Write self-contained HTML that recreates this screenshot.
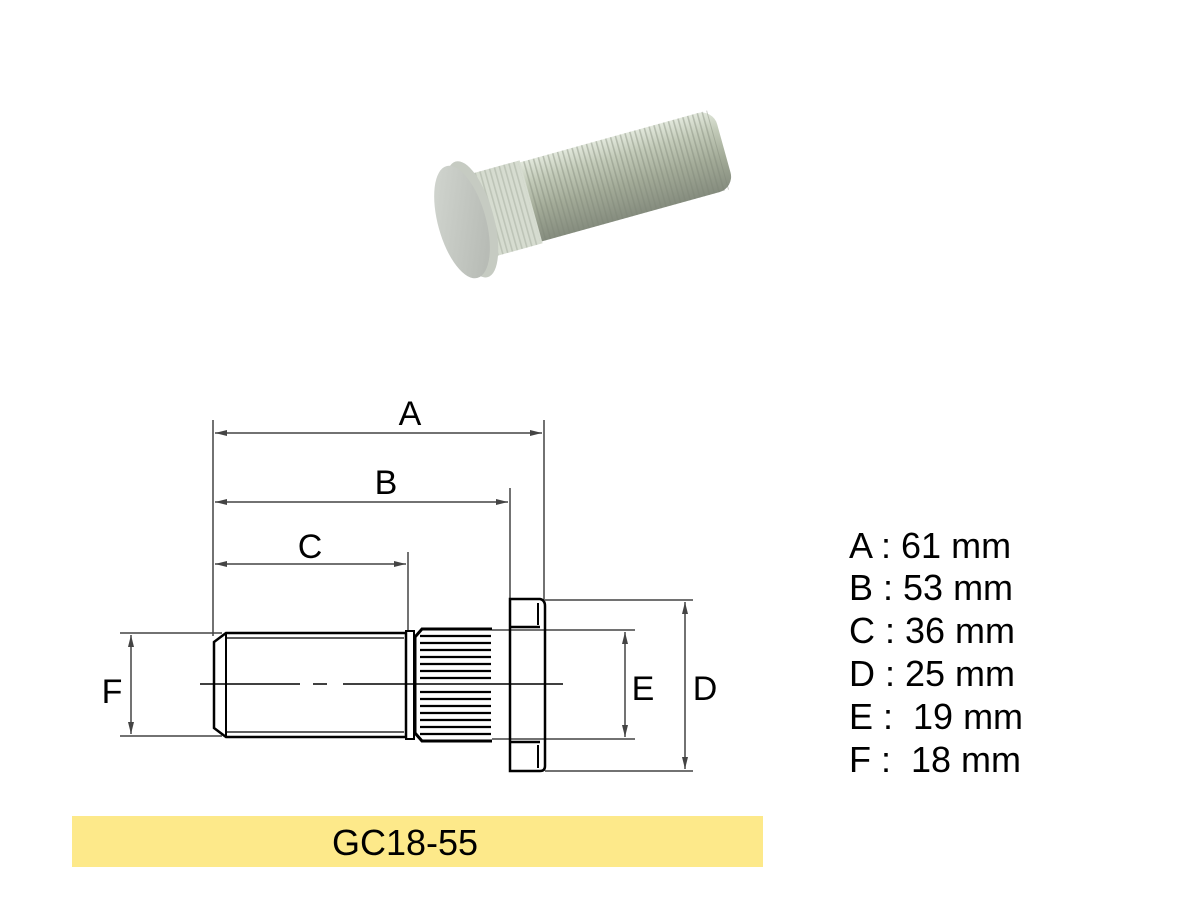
<!DOCTYPE html>
<html><head><meta charset="utf-8"><style>
html,body{margin:0;padding:0;background:#fff;}
svg{display:block}
text{font-family:"Liberation Sans",Arial,sans-serif;fill:#000}
</style></head><body>
<svg width="1179" height="905" viewBox="0 0 1179 905" xmlns="http://www.w3.org/2000/svg">
<defs>
<linearGradient id="sh" x1="0" y1="0" x2="0" y2="1">
<stop offset="0" stop-color="#e2e8dc"/><stop offset="0.25" stop-color="#c3cbb9"/><stop offset="0.6" stop-color="#a3ab98"/><stop offset="1" stop-color="#858c7e"/>
</linearGradient>
<linearGradient id="hd" x1="0" y1="0" x2="1" y2="1">
<stop offset="0" stop-color="#d4d8d2"/><stop offset="1" stop-color="#b2b6b0"/>
</linearGradient>
<pattern id="thr" width="5" height="90" patternUnits="userSpaceOnUse">
<rect x="0" width="1.6" height="90" fill="#7c8576" opacity="0.4"/>
</pattern>
<marker id="ar" viewBox="0 0 12 6" refX="12" refY="3" markerWidth="12" markerHeight="6" orient="auto-start-reverse" markerUnits="userSpaceOnUse"><path d="M0,0 L12,3 L0,6 z" fill="#444"/></marker>
</defs>

<!-- photo bolt -->
<g transform="translate(462,222) rotate(-15.5)">
<rect x="40" y="-42" width="232" height="82" rx="16" fill="url(#sh)"/>
<rect x="70" y="-42" width="196" height="82" fill="url(#thr)"/>
<rect x="14" y="-44" width="58" height="86" fill="#d6dcd0"/>
<rect x="18" y="-44" width="52" height="86" fill="url(#thr)" opacity="0.7"/>
<ellipse cx="10" cy="0" rx="22" ry="60" fill="#c6cbc2"/>
<ellipse cx="0" cy="0" rx="24" ry="58" fill="url(#hd)"/>
</g>

<!-- dimension lines -->
<g stroke="#444" stroke-width="1.5" fill="none">
<line x1="213" y1="420" x2="213" y2="636"/>
<line x1="544" y1="420" x2="544" y2="600"/>
<line x1="510" y1="488" x2="510" y2="600"/>
<line x1="408" y1="552" x2="408" y2="630"/>
<line x1="215" y1="433" x2="542" y2="433" marker-start="url(#ar)" marker-end="url(#ar)"/>
<line x1="215" y1="502" x2="508" y2="502" marker-start="url(#ar)" marker-end="url(#ar)"/>
<line x1="215" y1="564" x2="406" y2="564" marker-start="url(#ar)" marker-end="url(#ar)"/>
<line x1="120" y1="633" x2="222" y2="633"/>
<line x1="120" y1="736" x2="222" y2="736"/>
<line x1="131" y1="635" x2="131" y2="734" marker-start="url(#ar)" marker-end="url(#ar)"/>
<line x1="492" y1="630" x2="635" y2="630"/>
<line x1="492" y1="739" x2="635" y2="739"/>
<line x1="625" y1="632" x2="625" y2="737" marker-start="url(#ar)" marker-end="url(#ar)"/>
<line x1="545" y1="600" x2="693" y2="600"/>
<line x1="545" y1="771" x2="693" y2="771"/>
<line x1="685" y1="602" x2="685" y2="769" marker-start="url(#ar)" marker-end="url(#ar)"/>
</g>

<!-- part drawing -->
<g stroke="#000" fill="none">
<path d="M226,633 L406,633 L406,737 L226,737 L214,728 L214,642 Z" stroke-width="2.5"/>
<line x1="226" y1="633" x2="226" y2="737" stroke-width="2"/>
<line x1="226" y1="638" x2="404" y2="638" stroke-width="1.2"/>
<line x1="226" y1="732" x2="404" y2="732" stroke-width="1.2"/>
<rect x="406" y="631" width="8" height="108" stroke-width="2"/>
<path d="M492,629 L422,629 L415,637 L415,733 L422,741 L492,741" stroke-width="3"/>
<g stroke-width="2.2">
<line x1="420" y1="636" x2="491" y2="636"/><line x1="420" y1="643" x2="491" y2="643"/>
<line x1="420" y1="650" x2="491" y2="650"/><line x1="420" y1="657" x2="491" y2="657"/>
<line x1="420" y1="664" x2="491" y2="664"/><line x1="420" y1="671" x2="491" y2="671"/>
<line x1="420" y1="678" x2="491" y2="678"/><line x1="420" y1="692" x2="491" y2="692"/>
<line x1="420" y1="699" x2="491" y2="699"/><line x1="420" y1="706" x2="491" y2="706"/>
<line x1="420" y1="713" x2="491" y2="713"/><line x1="420" y1="720" x2="491" y2="720"/>
<line x1="420" y1="727" x2="491" y2="727"/><line x1="420" y1="734" x2="491" y2="734"/>
</g>
<path d="M510,599 L540,599 Q545,600 545,606 L545,766 Q545,771 540,771 L510,771 Z" stroke-width="2.5"/>
<line x1="510" y1="627" x2="540" y2="627" stroke-width="2.5"/>
<line x1="510" y1="742" x2="540" y2="742" stroke-width="2.5"/>
<line x1="538" y1="603" x2="538" y2="625" stroke-width="2"/>
<line x1="538" y1="745" x2="538" y2="768" stroke-width="2"/>
<path d="M200,684 L300,684 M313,684 L327,684 M343,684 L563,684" stroke-width="1.5"/>
</g>

<text x="410" y="425" font-size="34" text-anchor="middle">A</text>
<text x="386" y="494" font-size="34" text-anchor="middle">B</text>
<text x="310" y="558" font-size="34" text-anchor="middle">C</text>
<text x="112" y="703" font-size="34" text-anchor="middle">F</text>
<text x="643" y="700" font-size="34" text-anchor="middle">E</text>
<text x="705" y="700" font-size="34" text-anchor="middle">D</text>

<g font-size="36">
<text x="849" y="558">A : 61 mm</text>
<text x="849" y="600">B : 53 mm</text>
<text x="849" y="643">C : 36 mm</text>
<text x="849" y="686">D : 25 mm</text>
<text x="849" y="729">E :&#160; 19 mm</text>
<text x="849" y="772">F :&#160; 18 mm</text>
</g>

<rect x="72" y="816" width="691" height="51" fill="#fde98a"/>
<text x="405" y="855" font-size="36" text-anchor="middle">GC18-55</text>
</svg>
</body></html>
